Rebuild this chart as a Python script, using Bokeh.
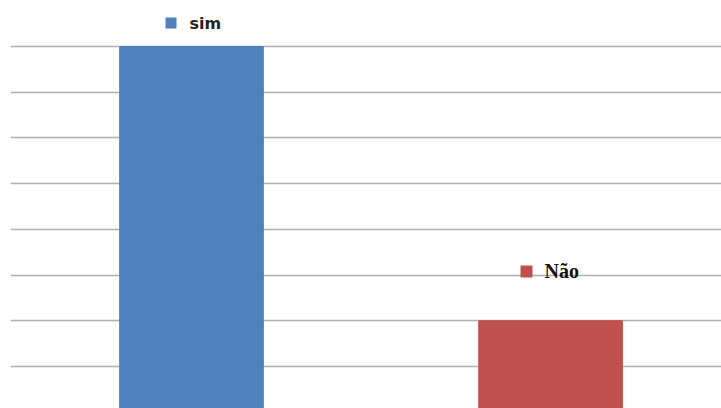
from bokeh.plotting import figure
from bokeh.models import Range1d, Grid, FixedTicker, ColumnDataSource
from bokeh.core.properties import value
from bokeh.embed import file_html
from bokeh.resources import INLINE

# Data
categories = ["sim", "Não"]
values = [80, 20]
colors = ["#4F81BD", "#C0504D"]
grid_ticks = [10, 20, 30, 40, 50, 60, 70, 80]

W, H = 721, 408
left_border = 10
x_start, x_end = -0.504, 1.476
y_start, y_end = 0.81, 90.07

p = figure(width=W, height=H, output_backend="svg", toolbar_location=None,
           x_axis_type=None, y_axis_type=None,
           x_range=Range1d(x_start, x_end), y_range=Range1d(y_start, y_end),
           min_border_left=left_border, min_border_right=0,
           min_border_top=0, min_border_bottom=0)
p.outline_line_color = None
p.background_fill_color = "white"
p.border_fill_color = "white"

grid = Grid(dimension=1, ticker=FixedTicker(ticks=grid_ticks),
            grid_line_color="#b0b0b0", grid_line_width=1.5)
p.add_layout(grid)

src = ColumnDataSource(dict(x=list(range(len(categories))), top=values,
                            color=colors, cat=categories))
p.vbar(x="x", top="top", bottom=0, width=0.40, color="color", source=src)

frame_w = W - left_border
ppx = frame_w / (x_end - x_start)
ppy = H / (y_end - y_start)

def dx(px):
    return (px - left_border) / ppx + x_start

def dy(py):
    return y_end - py / ppy

# legend-like labels
p.scatter([dx(170.5)], [dy(22.5)], marker="square", size=11,
          color=colors[0], line_color=None)
p.text([dx(189)], [dy(23)], text=[categories[0]], text_font=value("DejaVu Sans"),
       text_font_style="bold", text_font_size="16px", text_color="#222222",
       text_align="left", text_baseline="middle")

p.scatter([dx(526)], [dy(271)], marker="square", size=12,
          color=colors[1], line_color=None)
p.text([dx(544)], [dy(270)], text=[categories[1]], text_font=value("Liberation Serif"),
       text_font_style="bold", text_font_size="20px", text_color="#111111",
       text_align="left", text_baseline="middle")

open("out.html", "w").write(file_html(p, INLINE))
